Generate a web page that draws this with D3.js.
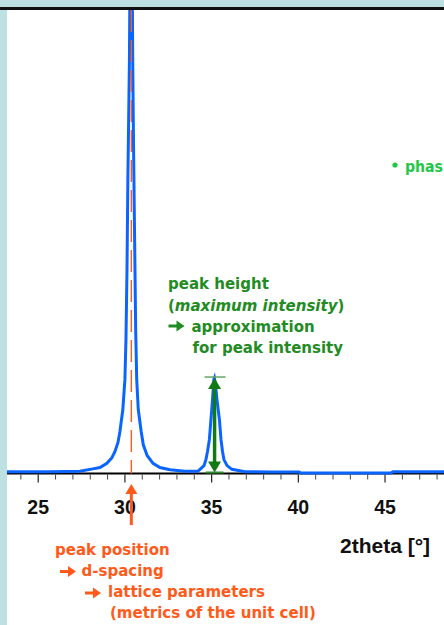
<!DOCTYPE html>
<html>
<head>
<meta charset="utf-8">
<script src="https://cdn.jsdelivr.net/npm/d3@7"></script>
<style>
  body { margin: 0; background: #fff; }
  svg { display: block; }
</style>
</head>
<body>
<div id="content"></div>
<script>
//-- diffractogram (2theta in degrees, intensity in counts)
const twoTheta = [
  23.2, 25.7, 27.4, 28.15, 28.56, 28.96, 29.25, 29.42, 29.6, 29.71, 29.88, 30.0,
  30.06, 30.12, 30.17, 30.26, 30.36, 30.45, 30.5, 30.56, 30.62, 30.68, 30.77,
  30.94, 31.06, 31.28, 31.62, 32.02, 32.6, 33.46, 34.21,
  34.33, 34.56, 34.67, 34.76, 34.87, 34.96, 35.05, 35.13, 35.16, 35.22, 35.31,
  35.45, 35.54, 35.63, 35.71, 35.89, 36.17, 36.92, 38.37, 40.04, 40.16, 45.35,
  45.46, 48.4
];
const counts = [
  4, 4, 5, 10, 13, 22, 34, 47, 67, 90, 138, 203,
  289, 440, 634, 892, 1450, 892, 698, 504, 310, 203, 138,
  90, 62, 39, 22, 13, 8, 5, 5,
  9, 17, 30, 47, 73, 116, 159, 203, 206, 192, 159,
  116, 73, 47, 30, 17, 9, 4, 3, 3, 1, 1,
  4, 4
];
const majorTicks = [25, 30, 35, 40, 45];
const minorTicks = [24, 26, 27, 28, 29, 31, 32, 33, 34, 36, 37, 38, 39, 41, 42, 43, 44, 46, 47, 48];
//-- annotated peaks
const posPeak = 30.37;
const heightPeak = { pos: 35.17, counts: 206 };
//-- annotation texts
const heightLines = ["peak height", "(maximum intensity)", "approximation", "for peak intensity"];
const positionLines = ["peak position", "d-spacing", "lattice parameters", "(metrics of the unit cell)"];
const axisTitle = "2theta [°]";
const sideNote = "phas";

//-- dimensions
const width = 444;
const height = 625;
const plot = { left: 7, top: 10, right: 444, bottom: 473.5 };
//-- colors
const frameColor = "#bde0e3";
const curveColor = "#0a64ff";
const orange = "#ff5a1a";
const green = "#238b23";
const darkGreen = "#127a12";

const svg = d3
  .select("#content")
  .append("svg")
  .attr("width", width)
  .attr("height", height);

svg.append("rect").attr("width", width).attr("height", height).attr("fill", "#fff");
//-- light frame on the left and top
svg.append("rect").attr("x", 0).attr("y", 0).attr("width", plot.left).attr("height", height).attr("fill", frameColor);
svg.append("rect").attr("x", 0).attr("y", 0).attr("width", width).attr("height", 7).attr("fill", frameColor);

const x = d3.scaleLinear().domain([23.2, 48.4]).range([plot.left, plot.right]);
const y = d3.scaleLinear().domain([0, 1000]).range([plot.bottom, plot.top]);

svg
  .append("clipPath")
  .attr("id", "plotClip")
  .append("rect")
  .attr("x", plot.left)
  .attr("y", plot.top)
  .attr("width", plot.right - plot.left)
  .attr("height", plot.bottom - plot.top + 2);

//-- top frame line
svg
  .append("line")
  .attr("x1", 0)
  .attr("x2", width)
  .attr("y1", 8.6)
  .attr("y2", 8.6)
  .attr("stroke", "#111")
  .attr("stroke-width", 3);

//-- x axis: baseline + ticks
const axis = svg.append("g").attr("transform", `translate(0,${plot.bottom})`);
axis
  .append("line")
  .attr("x1", plot.left)
  .attr("x2", plot.right)
  .attr("stroke", "#000")
  .attr("stroke-width", 2);
axis
  .selectAll("line.minor")
  .data(minorTicks)
  .join("line")
  .attr("class", "minor")
  .attr("x1", (d) => x(d))
  .attr("x2", (d) => x(d))
  .attr("y1", 1)
  .attr("y2", 6)
  .attr("stroke", "#444")
  .attr("stroke-width", 1);
axis
  .selectAll("line.major")
  .data(majorTicks)
  .join("line")
  .attr("class", "major")
  .attr("x1", (d) => x(d))
  .attr("x2", (d) => x(d))
  .attr("y1", 1)
  .attr("y2", 9)
  .attr("stroke", "#222")
  .attr("stroke-width", 1.2);
axis
  .selectAll("text")
  .data(majorTicks)
  .join("text")
  .attr("x", (d) => x(d))
  .attr("y", 40.5)
  .attr("text-anchor", "middle")
  .attr("font-family", "'Liberation Sans', Arial, sans-serif")
  .attr("font-weight", "bold")
  .attr("font-size", 19.5)
  .attr("fill", "#111")
  .text((d) => d);

svg
  .append("text")
  .attr("x", 340)
  .attr("y", 553)
  .attr("font-family", "'Liberation Sans', Arial, sans-serif")
  .attr("font-weight", "bold")
  .attr("font-size", 21)
  .attr("fill", "#111")
  .text(axisTitle);

//-- the pattern
const line = d3
  .line()
  .x((d, i) => x(twoTheta[i]))
  .y((d) => y(d));
svg
  .append("path")
  .datum(counts)
  .attr("clip-path", "url(#plotClip)")
  .attr("d", line)
  .attr("fill", "none")
  .attr("stroke", curveColor)
  .attr("stroke-width", 3)
  .attr("stroke-linejoin", "miter");

//-- peak position marker
svg
  .append("line")
  .attr("x1", x(posPeak))
  .attr("x2", x(posPeak))
  .attr("y1", plot.top)
  .attr("y2", plot.bottom)
  .attr("stroke", orange)
  .attr("stroke-width", 1.4)
  .attr("stroke-dasharray", "22,8");

//-- orange arrow under the axis
const ax = x(posPeak);
svg
  .append("line")
  .attr("x1", ax)
  .attr("x2", ax)
  .attr("y1", 492)
  .attr("y2", 525)
  .attr("stroke", orange)
  .attr("stroke-width", 3);
svg
  .append("path")
  .attr("d", `M${ax},484 L${ax - 6},494 L${ax + 6},494 Z`)
  .attr("fill", orange);

//-- peak height marker
const hx = x(heightPeak.pos);
const hTop = y(heightPeak.counts);
svg
  .append("line")
  .attr("x1", hx - 10)
  .attr("x2", hx + 11)
  .attr("y1", hTop - 1)
  .attr("y2", hTop - 1)
  .attr("stroke", "#62a862")
  .attr("stroke-width", 1.5);
svg
  .append("line")
  .attr("x1", hx - 9)
  .attr("x2", hx + 9)
  .attr("y1", plot.bottom - 1)
  .attr("y2", plot.bottom - 1)
  .attr("stroke", "#2e8b2e")
  .attr("stroke-width", 2);
svg
  .append("line")
  .attr("x1", hx)
  .attr("x2", hx)
  .attr("y1", hTop + 8)
  .attr("y2", plot.bottom - 8)
  .attr("stroke", darkGreen)
  .attr("stroke-width", 3.5);
svg
  .append("path")
  .attr("d", `M${hx},${hTop} L${hx - 6.5},${hTop + 11} L${hx + 6.5},${hTop + 11} Z`)
  .attr("fill", darkGreen);
svg
  .append("path")
  .attr("d", `M${hx},${plot.bottom - 1} L${hx - 6.5},${plot.bottom - 12} L${hx + 6.5},${plot.bottom - 12} Z`)
  .attr("fill", darkGreen);

//-- small thick arrows used in the notes
function noteArrow(x0, yc, color) {
  svg
    .append("line")
    .attr("x1", x0)
    .attr("x2", x0 + 9)
    .attr("y1", yc)
    .attr("y2", yc)
    .attr("stroke", color)
    .attr("stroke-width", 3);
  svg
    .append("path")
    .attr("d", `M${x0 + 16},${yc} L${x0 + 8},${yc - 5.5} L${x0 + 8},${yc + 5.5} Z`)
    .attr("fill", color);
}

const noteFont = "'DejaVu Sans', Verdana, sans-serif";

//-- green note
const greenNote = svg
  .append("g")
  .attr("font-family", noteFont)
  .attr("font-weight", "bold")
  .attr("font-size", 15)
  .attr("fill", green);
greenNote.append("text").attr("x", 168).attr("y", 289).text(heightLines[0]);
const l2 = greenNote.append("text").attr("x", 168).attr("y", 310.5);
l2.append("tspan").text("(");
l2.append("tspan").attr("font-style", "italic").text(heightLines[1].slice(1, -1));
l2.append("tspan").text(")");
greenNote.append("text").attr("x", 191.5).attr("y", 331.5).text(heightLines[2]);
greenNote.append("text").attr("x", 192.5).attr("y", 352.5).text(heightLines[3]);
noteArrow(168.5, 326, green);

//-- orange note
const orangeNote = svg
  .append("g")
  .attr("font-family", noteFont)
  .attr("font-weight", "bold")
  .attr("font-size", 15)
  .attr("fill", orange);
orangeNote.append("text").attr("x", 55).attr("y", 555).text(positionLines[0]);
orangeNote.append("text").attr("x", 81.5).attr("y", 576).text(positionLines[1]);
orangeNote.append("text").attr("x", 108).attr("y", 597).text(positionLines[2]);
orangeNote.append("text").attr("x", 110).attr("y", 618).text(positionLines[3]);
noteArrow(60, 571.5, orange);
noteArrow(85, 593, orange);

//-- note running into the right edge
svg.append("circle").attr("cx", 395).attr("cy", 165).attr("r", 2.6).attr("fill", "#1ec845");
svg
  .append("text")
  .attr("x", 405)
  .attr("y", 171.5)
  .attr("font-family", noteFont)
  .attr("font-weight", "bold")
  .attr("font-size", 15)
  .attr("textLength", 38)
  .attr("lengthAdjust", "spacingAndGlyphs")
  .attr("fill", "#1ec845")
  .text(sideNote);
</script>
</body>
</html>
